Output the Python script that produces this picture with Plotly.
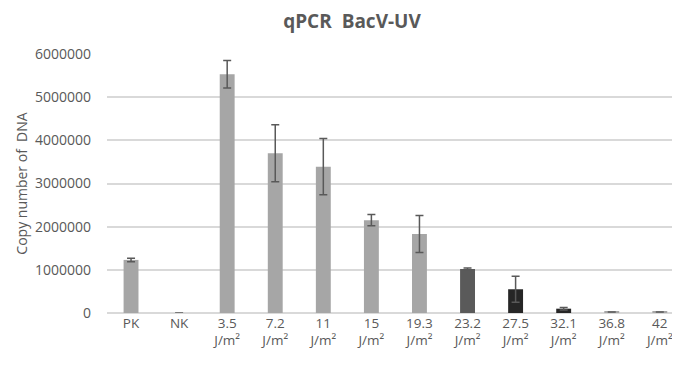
import plotly.graph_objects as go

categories = ["PK", "NK", "3.5<br>J/m²", "7.2<br>J/m²", "11<br>J/m²", "15<br>J/m²",
              "19.3<br>J/m²", "23.2<br>J/m²", "27.5<br>J/m²", "32.1<br>J/m²",
              "36.8<br>J/m²", "42<br>J/m²"]
values = [1230000, 0, 5530000, 3700000, 3390000, 2150000, 1830000, 1020000,
          550000, 100000, 25000, 25000]
errors = [40000, 0, 320000, 660000, 650000, 130000, 430000, 20000, 300000,
          30000, 0, 0]
bar_colors = ["#a6a6a6"] * 7 + ["#5a5a5a", "#262626", "#262626", "#a6a6a6", "#a6a6a6"]
tick_vals = [0, 1000000, 2000000, 3000000, 4000000, 5000000, 6000000]

# the page body has an 8px margin, so the figure is sized/offset to compensate
fig = go.Figure(go.Bar(
    x=list(range(len(categories))), y=values,
    marker=dict(color=bar_colors, line=dict(width=0)),
    error_y=dict(type="data", array=errors, visible=True, color="#595959",
                 thickness=1.5, width=4),
    width=0.31,
))

fig.update_layout(
    width=672, height=357,
    paper_bgcolor="white", plot_bgcolor="white",
    margin=dict(l=99, r=0, t=46, b=52),
    font=dict(family="Open Sans, Noto Sans, sans-serif", color="#595959", size=12),
    title=dict(text="<b>qPCR\u00a0 BacV-UV</b>", x=344 / 672, xanchor="center",
               xref="container", y=1 - 13 / 357, yanchor="middle",
               font=dict(size=19, color="#595959")),
    showlegend=False,
)
fig.update_xaxes(
    tickmode="array", tickvals=list(range(len(categories))), ticktext=categories,
    range=[-0.5, 11.42], showgrid=False, zeroline=False, showline=False,
    ticks="", automargin=False, tickfont=dict(size=13.5, color="#595959"),
)
fig.update_yaxes(
    range=[0, 6000000], tickvals=tick_vals, tickformat="d",
    showgrid=True, gridcolor="#d9d9d9", gridwidth=1.5, zeroline=True,
    zerolinecolor="#d9d9d9", zerolinewidth=1.5, automargin=False,
    ticks="", ticklabelstandoff=15, tickfont=dict(size=14, color="#595959"),
    title=dict(text="Copy number of\u00a0 DNA", font=dict(size=14, color="#595959"),
               standoff=4),
)

fig.write_html("out.html")
